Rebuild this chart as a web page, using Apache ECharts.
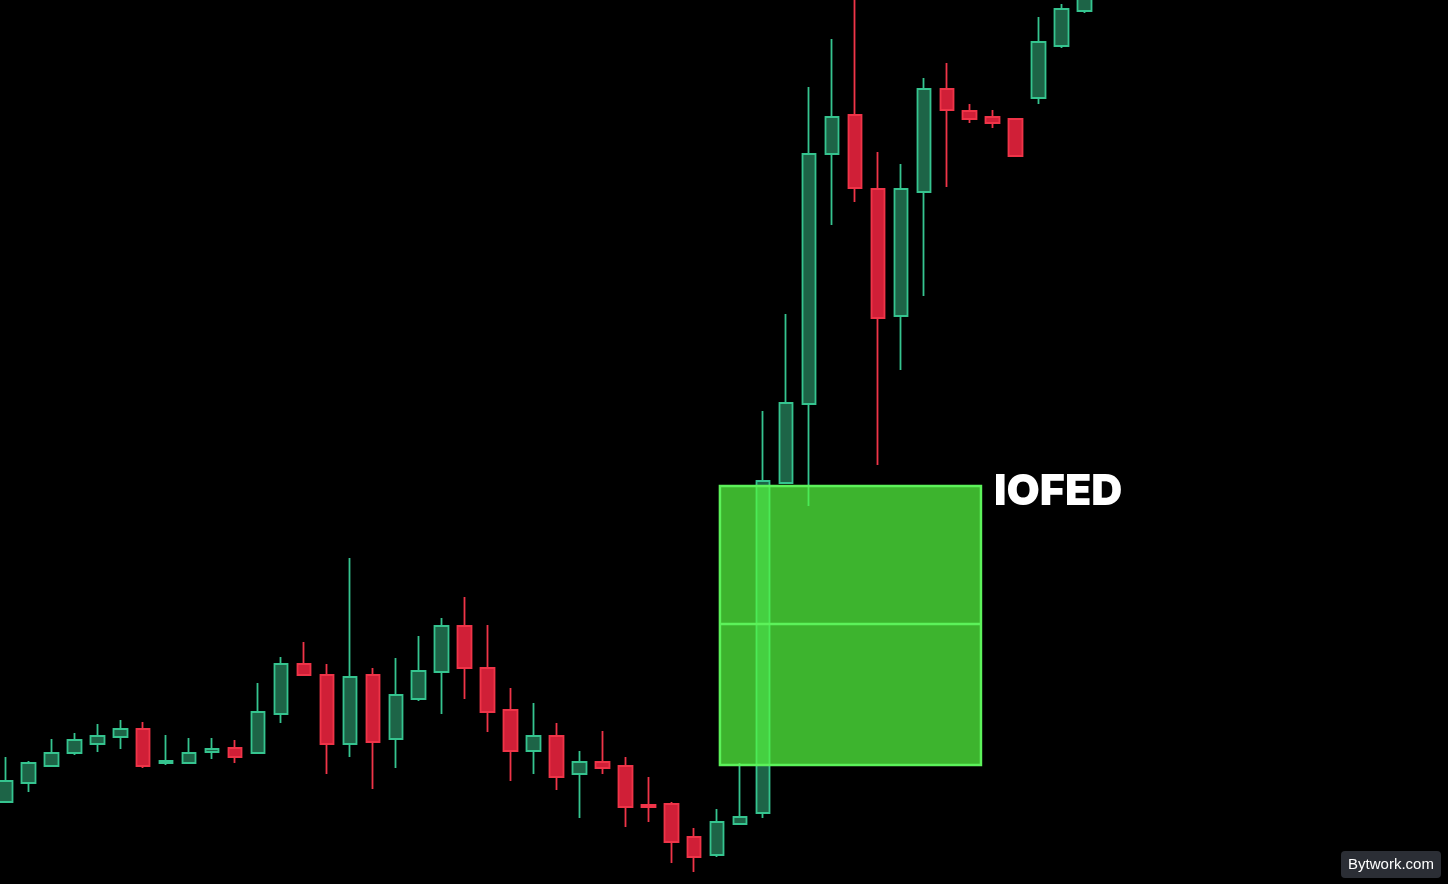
<!DOCTYPE html>
<html>
<head>
<meta charset="utf-8">
<script src="https://cdn.jsdelivr.net/npm/echarts@6/dist/echarts.min.js"></script>
<style>
  html, body { margin: 0; padding: 0; background: #000; }
  #chart { width: 1448px; height: 884px; }
</style>
</head>
<body>
<div id="chart"></div>
<script>
// candles, one entry per bar
var categories = [];
for (var i = 1; i <= 48; i++) categories.push('C' + i);

var opens  = [82, 101, 118, 131, 140, 147, 155, 121, 121, 132, 136, 131, 170, 220, 209, 140,
              209, 145, 185, 212, 258, 216, 174, 133, 148, 110, 122, 118, 79, 80, 47, 29,
              60, 71, 401, 480, 730, 769, 695, 568, 692, 795, 773, 767, 765, 786, 838, 873];
var closes = [103, 121, 131, 144, 148, 155, 118, 123, 131, 135, 127, 172, 220, 209, 140, 207,
              142, 189, 213, 258, 216, 172, 133, 148, 107, 122, 116, 77, 77, 42, 27, 62,
              67, 403, 481, 730, 767, 696, 566, 695, 795, 774, 765, 761, 728, 842, 875, 887];
var lows   = [82, 92, 118, 129, 132, 135, 116, 119, 120, 125, 121, 131, 161, 209, 110, 127,
              95, 116, 183, 170, 185, 152, 103, 110, 94, 66, 110, 57, 62, 21, 12, 27,
              60, 66, 400, 378, 659, 682, 419, 514, 588, 697, 761, 756, 728, 780, 836, 871];
var highs  = [127, 123, 145, 151, 160, 164, 162, 149, 146, 146, 144, 201, 227, 242, 220, 326,
              216, 226, 248, 266, 287, 259, 196, 181, 161, 133, 153, 127, 107, 82, 56, 75,
              121, 473, 570, 797, 845, 894, 732, 720, 806, 821, 780, 774, 765, 867, 880, 892];

// IOFED zone: bar positions (left/right) and price levels
var zoneLeft = 31.12;
var zoneRight = 42.49;
var zoneTop = 398;
var zoneBottom = 119;
var zoneMid = 260;

var candles = [];
for (var k = 0; k < opens.length; k++) {
  candles.push([opens[k], closes[k], lows[k], highs[k]]);
}

var chart = echarts.init(document.getElementById('chart'));

var option = {
  backgroundColor: '#000',
  animation: false,
  grid: { left: 5.5, right: 363.5, top: 0, bottom: 0 },
  xAxis: [
    { type: 'category', data: categories, boundaryGap: false, show: false },
    { type: 'value', min: 0, max: 47, show: false }
  ],
  yAxis: { type: 'value', min: 0, max: 884, show: false },
  series: [
    {
      type: 'candlestick',
      data: candles,
      barWidth: 14,
      clip: false,
      itemStyle: {
        color: '#1d6447',
        color0: '#d01f37',
        borderColor: '#35c48f',
        borderColor0: '#ef3448',
        borderWidth: 1.8
      }
    },
    {
      type: 'custom',
      xAxisIndex: 1,
      z: 5,
      data: [[zoneLeft, zoneRight, zoneTop, zoneBottom, zoneMid]],
      renderItem: function (params, api) {
        var p1 = api.coord([api.value(0), api.value(2)]);
        var p2 = api.coord([api.value(1), api.value(3)]);
        var pm = api.coord([api.value(0), api.value(4)]);
        return {
          type: 'group',
          children: [
            {
              type: 'rect',
              shape: { x: p1[0], y: p1[1], width: p2[0] - p1[0], height: p2[1] - p1[1] },
              style: { fill: 'rgba(84,250,64,0.72)', stroke: '#5cf25a', lineWidth: 2.5 }
            },
            {
              type: 'line',
              shape: { x1: p1[0], y1: pm[1], x2: p2[0], y2: pm[1] },
              style: { stroke: '#5cf25a', lineWidth: 2.5 }
            }
          ]
        };
      }
    }
  ],
  graphic: [
    {
      type: 'text',
      left: 994,
      top: 471,
      style: {
        text: 'IOFED',
        fill: '#fff',
        font: '900 43px Inter, Lato, sans-serif'
      }
    },
    {
      type: 'group',
      left: 1341,
      top: 851,
      children: [
        {
          type: 'rect',
          shape: { x: 0, y: 0, width: 100, height: 27, r: 4 },
          style: { fill: '#2b2e35' }
        },
        {
          type: 'text',
          x: 50,
          y: 14,
          style: {
            text: 'Bytwork.com',
            fill: '#fff',
            font: '15px "Liberation Sans", Arial, sans-serif',
            align: 'center',
            verticalAlign: 'middle'
          }
        }
      ]
    }
  ]
};

chart.setOption(option);
</script>
</body>
</html>
